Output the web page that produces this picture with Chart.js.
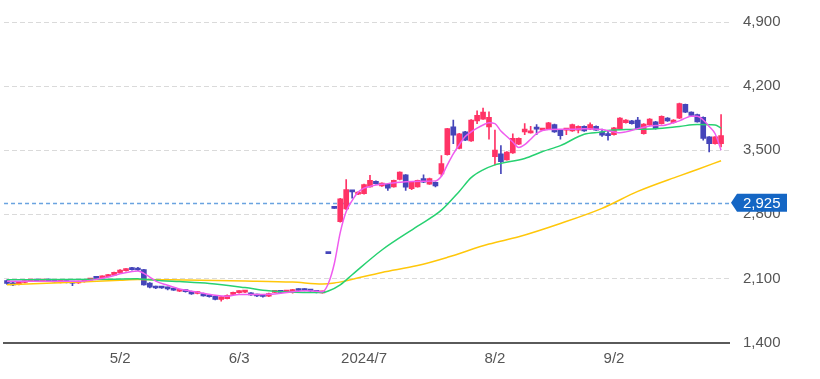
<!DOCTYPE html>
<html><head><meta charset="utf-8">
<script src="https://cdn.jsdelivr.net/npm/chart.js@4/dist/chart.umd.min.js"></script>
<style>html,body{margin:0;padding:0;background:#fff;}#wrap{width:820px;height:379px;position:relative;}</style>
</head><body><div id="wrap"><canvas id="c"></canvas></div>
<script>
// trading days (one trailing empty slot)
const dates = ['4/4','4/5','4/8','4/9','4/10','4/11','4/12','4/15','4/16','4/17','4/18','4/19','4/22','4/23','4/24','4/25','4/26','4/30','5/1',
'5/2','5/7','5/8','5/9','5/10','5/13','5/14','5/15','5/16','5/17','5/20','5/21','5/22','5/23','5/24','5/27','5/28','5/29','5/30','5/31',
'6/3','6/4','6/5','6/6','6/7','6/10','6/11','6/12','6/13','6/14','6/17','6/18','6/19','6/20','6/21','6/24','6/25','6/26','6/27','6/28',
'7/1','7/2','7/3','7/4','7/5','7/8','7/9','7/10','7/11','7/12','7/16','7/17','7/18','7/19','7/22','7/23','7/24','7/25','7/26','7/29','7/30','7/31',
'8/1','8/2','8/5','8/6','8/7','8/8','8/9','8/13','8/14','8/15','8/16','8/19','8/20','8/21','8/22','8/23','8/26','8/27','8/28','8/29','8/30',
'9/2','9/3','9/4','9/5','9/6','9/9','9/10','9/11','9/12','9/13','9/17','9/18','9/19','9/20','9/24','9/25','9/26','9/27','9/30','10/1'];

const open = [2075,2050,2035,2055,2070,2085,2070,2088,2075,2058,
2070,2058,2050,2065,2082,2115,2105,2120,2135,2160,
2185,2205,2202,2195,2050,2010,2005,2000,1988,1960,
1970,1958,1935,1935,1915,1905,1870,1880,1925,1945,
1950,1940,1925,1915,1905,1948,1962,1950,1945,1985,
1982,1978,1962,1942,2370,2865,2720,2860,3050,3020,
3025,3100,3160,3110,3130,3100,3180,3230,3080,3100,
3190,3130,3150,3240,3450,3755,3520,3700,3600,3820,
3840,3755,3430,3460,3395,3470,3565,3700,3690,3750,
3720,3730,3780,3720,3720,3710,3720,3760,3730,3760,
3700,3680,3670,3730,3800,3820,3830,3680,3775,3810,
3790,3850,3800,3850,4000,3915,3890,3860,3645,3570,
3570];
const high = [2085,2060,2065,2080,2090,2090,2088,2092,2080,2072,
2074,2062,2070,2088,2100,2120,2128,2145,2170,2195,
2208,2220,2222,2200,2055,2015,2010,2005,1992,1980,
1975,1962,1958,1940,1920,1910,1905,1920,1950,1968,
1965,1945,1930,1920,1940,1965,1968,1968,1982,1990,
1988,1982,1968,1962,2370,2865,2975,3180,3055,3045,
3130,3225,3165,3145,3135,3175,3265,3235,3155,3175,
3230,3195,3155,3440,3740,3830,3685,3705,3835,3930,
3960,3920,3720,3550,3485,3680,3635,3790,3760,3780,
3735,3805,3785,3725,3735,3785,3765,3765,3800,3765,
3730,3710,3750,3855,3835,3825,3860,3790,3845,3815,
3875,3855,3835,4015,4005,3920,3895,3865,3650,3650,
3890];
const low = [2035,2020,2030,2050,2065,2065,2065,2068,2058,2052,
2050,2020,2045,2060,2078,2095,2100,2115,2130,2155,
2180,2190,2185,2025,1995,1988,1990,1975,1968,1955,
1950,1925,1930,1905,1895,1865,1850,1875,1920,1940,
1945,1915,1900,1895,1900,1945,1942,1945,1940,1962,
1962,1955,1942,1938,2370,2865,2715,2850,2975,3015,
3020,3095,3130,3105,3060,3095,3175,3060,3070,3095,
3145,3125,3100,3220,3445,3570,3515,3605,3595,3790,
3835,3620,3340,3245,3390,3465,3560,3670,3685,3670,
3715,3725,3695,3620,3670,3705,3690,3705,3725,3715,
3650,3610,3665,3725,3795,3785,3730,3675,3770,3730,
3785,3815,3795,3845,3910,3875,3805,3610,3480,3565,
3535];
const close = [2045,2030,2060,2075,2085,2070,2080,2072,2062,2068,
2055,2048,2065,2082,2095,2100,2122,2140,2165,2190,
2200,2195,2192,2030,2005,1995,1995,1985,1972,1975,
1955,1930,1952,1910,1900,1870,1900,1915,1945,1962,
1960,1920,1908,1902,1935,1960,1948,1962,1978,1968,
1968,1962,1948,1958,2370,2865,2970,3070,3045,3040,
3125,3170,3135,3140,3085,3170,3260,3095,3150,3170,
3150,3190,3110,3355,3735,3665,3680,3610,3830,3880,
3915,3860,3500,3375,3480,3630,3630,3730,3710,3730,
3730,3800,3700,3660,3730,3780,3760,3710,3780,3720,
3665,3660,3745,3850,3830,3790,3735,3785,3840,3735,
3870,3820,3830,4010,3915,3880,3810,3630,3570,3645,
3660];

// moving averages: [dayIndex, value]
const ma5 = [[0,2070],[5,2068],[10,2068],[13,2072],[15,2090],[17,2115],[19,2150],[21,2175],[22,2180],[23,2155],[24,2115],[25,2070],[27,2025],[29,1985],[32,1950],[35,1915],[37,1905],[39,1925],[42,1925],[45,1930],[48,1955],[50,1965],[52,1960],[53,1955],[54,2045],[55,2260],[56,2600],[57,2830],[58,2950],[59,3040],[60,3085],[61,3105],[62,3120],[64,3135],[67,3155],[70,3160],[72,3165],[73,3215],[74,3340],[75,3460],[76,3560],[77,3650],[78,3700],[79,3740],[80,3775],[81,3800],[82,3790],[83,3710],[84,3650],[85,3590],[86,3530],[87,3560],[88,3620],[89,3680],[90,3715],[91,3725],[93,3730],[95,3730],[97,3735],[100,3725],[102,3700],[103,3690],[104,3700],[106,3735],[109,3770],[110,3770],[112,3800],[113,3820],[114,3850],[115,3870],[116,3870],[117,3830],[118,3760],[119,3680],[120,3500]];
const ma25 = [[0,2085],[10,2088],[18,2092],[22,2095],[23,2090],[26,2075],[29,2065],[34,2045],[40,2000],[44,1965],[47,1952],[53,1945],[54,1962],[56,2030],[58,2140],[63,2410],[69,2670],[73,2845],[76,3050],[78,3200],[80,3285],[82,3340],[83,3356],[87,3410],[90,3485],[93,3550],[97,3675],[100,3700],[101,3715],[104,3725],[109,3735],[113,3760],[116,3780],[119,3775],[120,3740]];
const ma75 = [[0,2030],[10,2055],[19,2080],[22,2088],[30,2082],[40,2072],[48,2060],[53,2040],[55,2050],[57,2075],[63,2165],[69,2240],[74,2330],[81,2475],[86,2555],[93,2700],[100,2865],[106,3050],[113,3220],[116,3290],[120,3385]];

const xTickLabels = [[19,'5/2'],[39,'6/3'],[60,'2024/7'],[82,'8/2'],[102,'9/2']];
const yTicks = [1400,2100,2800,3500,4200,4900];
const markerPrice = 2925;

const UP = '#ff3366', DOWN = '#4545ba';
const candleColors = close.map((c,i) => c > open[i] ? UP : DOWN);
const toPts = arr => arr.map(([i,v]) => ({x: dates[i], y: v}));
const tickMap = {}; xTickLabels.forEach(([i,t]) => tickMap[i] = t);
const FONT = "'Liberation Sans', Arial, sans-serif";
Chart.defaults.font.family = FONT;

const markerPlugin = {
  id: 'marker',
  beforeDatasetsDraw(chart) {
    const {ctx, chartArea: a, scales: {y}} = chart;
    const py = Math.round(y.getPixelForValue(markerPrice)) + 0.5;
    ctx.save();
    ctx.strokeStyle = '#6aa3e0'; ctx.lineWidth = 1.5; ctx.setLineDash([4,3]);
    ctx.beginPath(); ctx.moveTo(a.left, py); ctx.lineTo(a.right, py); ctx.stroke();
    ctx.restore();
  },
  afterDraw(chart) {
    const {ctx, chartArea: a, scales: {y}} = chart;
    const py = y.getPixelForValue(markerPrice);
    const x0 = a.right + 1, x1 = x0 + 6, x2 = x0 + 56, h = 9;
    ctx.save();
    ctx.fillStyle = '#1466c4';
    ctx.beginPath();
    ctx.moveTo(x0, py); ctx.lineTo(x1, py - h); ctx.lineTo(x2, py - h);
    ctx.lineTo(x2, py + h); ctx.lineTo(x1, py + h); ctx.closePath(); ctx.fill();
    ctx.fillStyle = '#fff'; ctx.font = '15px ' + FONT; ctx.textBaseline = 'middle'; ctx.textAlign = 'left';
    ctx.fillText(markerPrice.toLocaleString('en-US'), a.right + 13, py + 1);
    ctx.restore();
  }
};

new Chart(document.getElementById('c'), {
  type: 'bar',
  data: {
    labels: dates,
    datasets: [
      {type: 'line', label: 'MA5', data: toPts(ma5), borderColor: '#ef5cef', borderWidth: 1.5, pointRadius: 0, cubicInterpolationMode: 'monotone', spanGaps: true, order: 0},
      {type: 'line', label: 'MA25', data: toPts(ma25), borderColor: '#27d171', borderWidth: 1.5, pointRadius: 0, cubicInterpolationMode: 'monotone', spanGaps: true, order: 0},
      {type: 'line', label: 'MA75', data: toPts(ma75), borderColor: '#ffc70a', borderWidth: 1.5, pointRadius: 0, cubicInterpolationMode: 'monotone', spanGaps: true, order: 0},
      {label: 'body', data: open.map((o,i) => [o, close[i]]), backgroundColor: candleColors, barThickness: 5, minBarLength: 2, grouped: false, borderWidth: 0, order: 2},
      {label: 'wick', data: low.map((l,i) => [l, high[i]]), backgroundColor: candleColors, barThickness: 1, grouped: false, borderWidth: 0, order: 3}
    ]
  },
  options: {
    responsive: true, maintainAspectRatio: false, animation: false, devicePixelRatio: 1,
    layout: {padding: {left: 1, top: 19, right: 0, bottom: 0}},
    plugins: {legend: {display: false}, tooltip: {enabled: false}},
    scales: {
      x: {
        offset: true,
        grid: {display: false, drawTicks: false},
        border: {display: true, color: '#5a5a5a', width: 2},
        ticks: {autoSkip: false, maxRotation: 0, minRotation: 0, padding: 7, color: '#555', font: {size: 15},
          callback: (v, i) => tickMap[i] || ''},
        afterFit: s => { s.height = 36.5; }
      },
      y: {
        position: 'right', min: 1400, max: 4900,
        grid: {color: '#dadada', lineWidth: 1, drawTicks: false, borderDash: [5,3]},
        border: {display: false, dash: [5,3]},
        ticks: {padding: 13, color: '#555', font: {size: 15}, callback: v => Number(v).toLocaleString('en-US')},
        afterBuildTicks: s => { s.ticks = yTicks.map(v => ({value: v})); },
        afterFit: s => { s.width = 90; }
      }
    }
  },
  plugins: [markerPlugin]
});
</script></body></html>
